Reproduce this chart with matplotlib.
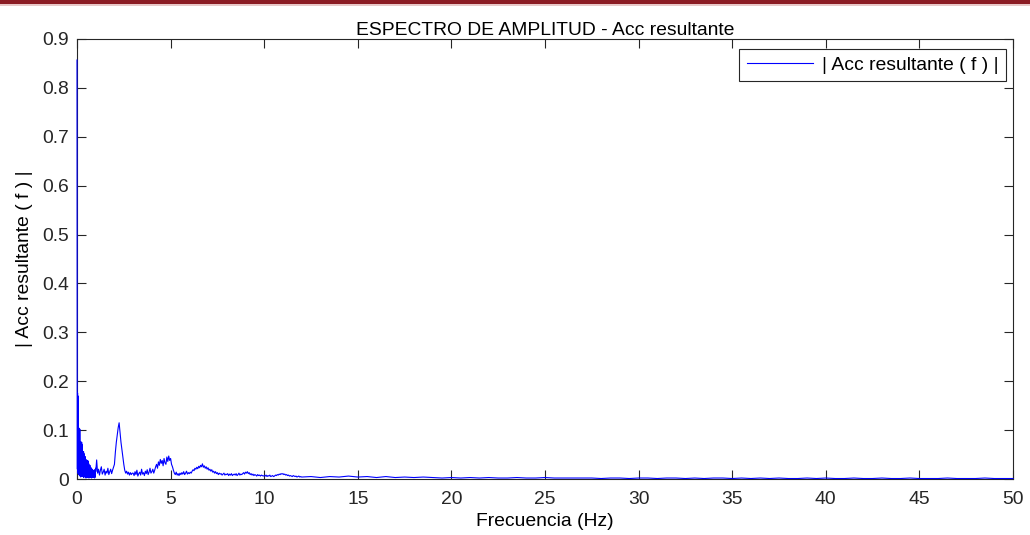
import numpy as np
import matplotlib
matplotlib.use("Agg")
import matplotlib.pyplot as plt
from matplotlib.patches import Rectangle

# Amplitude spectrum |Acc resultante(f)|
# 0.00 - 0.99 Hz, 0.01 Hz resolution
amp_dc = [
    0.857, 0.180, 0.020, 0.176, 0.012, 0.170, 0.030, 0.104, 0.010, 0.100,
    0.018, 0.104, 0.008, 0.098, 0.025, 0.102, 0.006, 0.076, 0.015, 0.074,
    0.004, 0.076, 0.020, 0.072, 0.009, 0.075, 0.012, 0.070, 0.005, 0.056,
    0.016, 0.055, 0.007, 0.053, 0.011, 0.056, 0.003, 0.052, 0.014, 0.046,
    0.006, 0.045, 0.013, 0.046, 0.004, 0.043, 0.010, 0.039, 0.002, 0.038,
    0.012, 0.039, 0.005, 0.036, 0.009, 0.038, 0.003, 0.035, 0.011, 0.037,
    0.004, 0.033, 0.008, 0.031, 0.002, 0.026, 0.010, 0.024, 0.005, 0.028,
    0.003, 0.021, 0.009, 0.019, 0.004, 0.023, 0.007, 0.016, 0.002, 0.018,
    0.006, 0.015, 0.003, 0.020, 0.008, 0.014, 0.004, 0.017, 0.009, 0.012,
    0.003, 0.016, 0.007, 0.013, 0.002, 0.019, 0.006, 0.014, 0.004, 0.022,
]

# 1.00 - 11.95 Hz, 0.05 Hz resolution
amp_low = [
    # 1.00 - 1.95
    0.015, 0.039, 0.012, 0.020, 0.008, 0.018, 0.025, 0.010, 0.014, 0.020,
    0.008, 0.016, 0.012, 0.022, 0.009, 0.015, 0.020, 0.011, 0.018, 0.024,
    # 2.00 - 2.95
    0.030, 0.055, 0.075, 0.090, 0.105, 0.115, 0.095, 0.075, 0.060, 0.045,
    0.030, 0.018, 0.012, 0.016, 0.010, 0.014, 0.008, 0.013, 0.009, 0.012,
    # 3.00 - 3.95
    0.012, 0.007, 0.015, 0.009, 0.018, 0.006, 0.011, 0.014, 0.008, 0.020,
    0.010, 0.013, 0.007, 0.016, 0.011, 0.019, 0.009, 0.014, 0.022, 0.012,
    # 4.00 - 4.95
    0.015, 0.020, 0.012, 0.018, 0.025, 0.030, 0.022, 0.035, 0.028, 0.040,
    0.032, 0.038, 0.027, 0.042, 0.033, 0.030, 0.045, 0.036, 0.047, 0.038,
    # 5.00 - 5.95
    0.042, 0.030, 0.025, 0.018, 0.012, 0.009, 0.014, 0.008, 0.011, 0.007,
    0.012, 0.009, 0.013, 0.010, 0.015, 0.009, 0.012, 0.016, 0.010, 0.013,
    # 6.00 - 6.95
    0.011, 0.014, 0.012, 0.016, 0.019, 0.017, 0.022, 0.020, 0.024, 0.021,
    0.026, 0.023, 0.028, 0.025, 0.031, 0.024, 0.027, 0.022, 0.025, 0.020,
    # 7.00 - 7.95
    0.023, 0.018, 0.020, 0.016, 0.019, 0.014, 0.016, 0.012, 0.015, 0.011,
    0.013, 0.009, 0.012, 0.010, 0.011, 0.008, 0.010, 0.012, 0.008, 0.010,
    # 8.00 - 8.95
    0.009, 0.011, 0.007, 0.010, 0.008, 0.011, 0.007, 0.009, 0.010, 0.008,
    0.011, 0.007, 0.009, 0.012, 0.008, 0.010, 0.009, 0.011, 0.013, 0.010,
    # 9.00 - 9.95
    0.014, 0.012, 0.015, 0.011, 0.013, 0.009, 0.011, 0.008, 0.010, 0.007,
    0.009, 0.008, 0.006, 0.009, 0.007, 0.008, 0.006, 0.008, 0.007, 0.006,
    # 10.00 - 10.95
    0.007, 0.006, 0.008, 0.005, 0.007, 0.006, 0.008, 0.005, 0.006, 0.007,
    0.005, 0.006, 0.008, 0.007, 0.009, 0.008, 0.010, 0.009, 0.011, 0.010,
    # 11.00 - 11.95
    0.011, 0.009, 0.010, 0.008, 0.009, 0.007, 0.008, 0.006, 0.007, 0.006,
    0.005, 0.007, 0.006, 0.005, 0.006, 0.004, 0.005, 0.006, 0.004, 0.005,
]

# 12.0 - 50.0 Hz, 0.5 Hz resolution
amp_high = [
    0.004, 0.005, 0.003, 0.005, 0.004, 0.006, 0.004, 0.005, 0.003, 0.005,
    0.003, 0.004, 0.003, 0.004, 0.003, 0.002, 0.003, 0.002, 0.003, 0.002,
    0.003, 0.002, 0.002, 0.003, 0.002, 0.002, 0.003, 0.002, 0.002, 0.002,
    0.002, 0.002, 0.001, 0.002, 0.002, 0.001, 0.002, 0.002, 0.001, 0.002,
    0.002, 0.001, 0.002, 0.001, 0.002, 0.002, 0.001, 0.002, 0.001, 0.002,
    0.001, 0.002, 0.001, 0.001, 0.002, 0.001, 0.002, 0.001, 0.001, 0.002,
    0.001, 0.001, 0.002, 0.001, 0.001, 0.002, 0.001, 0.001, 0.001, 0.002,
    0.001, 0.001, 0.001, 0.002, 0.001, 0.001, 0.001,
]

freq_dc = np.arange(len(amp_dc)) * 0.01
freq_low = 1.0 + np.arange(len(amp_low)) * 0.05
freq_high = 12.0 + np.arange(len(amp_high)) * 0.5
freq = np.concatenate([freq_dc, freq_low, freq_high])
amp = np.concatenate([amp_dc, amp_low, amp_high])

x_ticks = [0, 5, 10, 15, 20, 25, 30, 35, 40, 45, 50]
y_ticks = [0, 0.1, 0.2, 0.3, 0.4, 0.5, 0.6, 0.7, 0.8, 0.9]
y_tick_labels = ["0", "0.1", "0.2", "0.3", "0.4", "0.5", "0.6", "0.7", "0.8", "0.9"]

FS = 13.9
plt.rcParams["font.family"] = ["Liberation Sans", "DejaVu Sans"]
W, H = 1030, 535
fig = plt.figure(figsize=(W / 100, H / 100), dpi=100)

# thin dark red band along the top edge
fig.patches.append(Rectangle((0, 1 - 3.5 / H), 1, 3.5 / H, transform=fig.transFigure,
                             facecolor="#8b1c24", edgecolor="none", zorder=10))
fig.patches.append(Rectangle((0, 1 - 6 / H), 1, 2.5 / H, transform=fig.transFigure,
                             facecolor="#e8c8c8", edgecolor="none", zorder=9))

ax = fig.add_axes([77 / W, 1 - 479 / H, (1013 - 77) / W, (479 - 39) / H])
ax.plot(freq, amp, color="#0000ff", linewidth=0.8, label="| Acc resultante ( f ) |",
        zorder=3, clip_on=False)

ax.set_xlim(0, 50)
ax.set_ylim(0, 0.9)
ax.set_xticks(x_ticks)
ax.set_yticks(y_ticks)
ax.set_yticklabels(y_tick_labels)
ax.tick_params(direction="in", length=6.5, width=0.8, top=True, right=True,
               labelsize=FS, colors="#262626")
ax.tick_params(axis="x", pad=8.5)
ax.tick_params(axis="y", pad=5.5)
for s in ax.spines.values():
    s.set_linewidth(0.8)
    s.set_color("#262626")

ax.set_title("ESPECTRO DE AMPLITUD - Acc resultante", fontsize=FS, pad=3)
ax.set_xlabel("Frecuencia (Hz)", fontsize=FS, labelpad=4)
ax.set_ylabel("| Acc resultante ( f ) |", fontsize=FS, labelpad=7)

leg = ax.legend(loc="upper right", bbox_to_anchor=(1006 / W, 1 - 49 / H),
                bbox_transform=fig.transFigure, borderaxespad=0, fontsize=FS,
                fancybox=False, shadow=False, framealpha=1, edgecolor="#262626",
                handlelength=3.45, handletextpad=0.45, borderpad=0.38)
leg.get_frame().set_linewidth(0.8)
leg.set_zorder(5)

fig.savefig("out.png", dpi=100)
